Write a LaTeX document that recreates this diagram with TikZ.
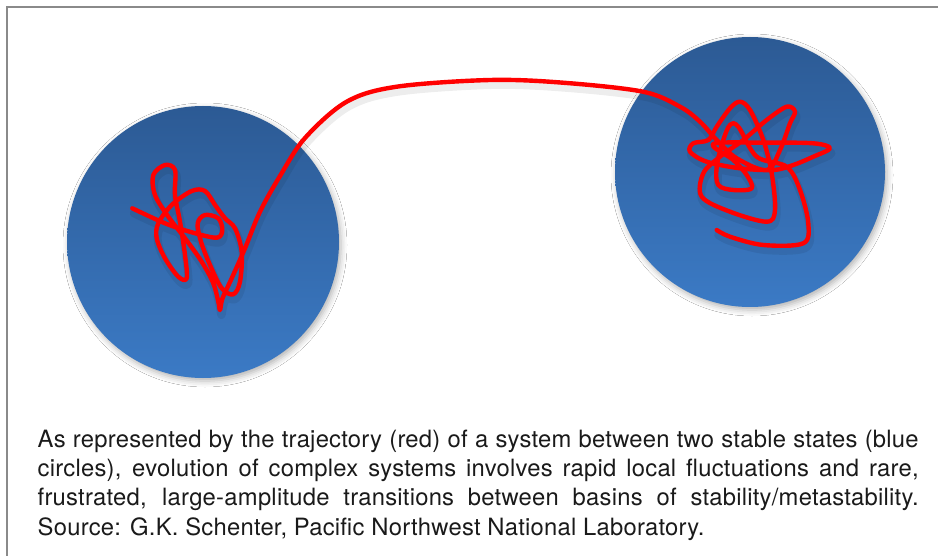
\documentclass[tikz,border=0pt]{standalone}
\usepackage{fontspec}
\setmainfont{TeX Gyre Heros}[LetterSpace=1]
\usetikzlibrary{shadows.blur}
\definecolor{circtop}{HTML}{2C5A94}
\definecolor{circbot}{HTML}{3B7AC5}
\definecolor{trajred}{HTML}{FF0000}
\definecolor{framegray}{HTML}{8A8A8A}
\definecolor{captxt}{HTML}{1A1A1A}
\begin{document}
\begin{tikzpicture}[x=1pt,y=-1pt,
  basin/.style={circle, inner sep=0pt, minimum size=#1, top color=circtop, bottom color=circbot,
    blur shadow={shadow xshift=2pt, shadow yshift=-3pt, shadow blur radius=6pt, shadow opacity=30}},
  framel/.style={draw=framegray, line width=1.4pt},
  trajline/.style={draw=trajred, line width=4.4pt, line cap=round, line join=round},
  trajshade/.style={draw=black, opacity=0.07, line width=8pt, line cap=round, line join=round, xshift=1.5pt, yshift=-5pt},
  capline/.style={anchor=base west, inner sep=0pt, text=captxt, font=\fontsize{23.8pt}{29.3pt}\selectfont}]
\useasboundingbox (0,0) rectangle (938,556);
\fill[white] (0,0) rectangle (938,556);
% frame
\coordinate (ftr) at (938,7);
\coordinate (ftl) at (7,7);
\coordinate (fbl) at (7,556);
\draw[framel] (ftr) -- (ftl) -- (fbl);
% basins
\node[basin=272pt] (A) at (203,242) {};
\node[basin=270pt] (B) at (750,172) {};
% trajectory
\def\trajpts{(132.3,208.3) (165,223.3) (191.7,232.3) (216.7,237.7) (222.3,230) (218.3,218.3)
 (205,215) (197.7,223.3) (201,241.7) (210,265) (221.7,288.3) (233.3,294.3) (240,281.7)
 (241.7,251.7) (235,228.3) (225,218.3) (215,205) (205,191) (191.7,191) (171.7,205)
 (158.3,223.3) (156.7,238.3) (165,258.3) (178.3,276.7) (186.7,278.3) (185,255) (180,221.7)
 (175,195) (175,170) (165,165) (153.3,175) (155,195) (168.3,216.7) (185,238.3) (201.7,261.7)
 (213.3,283.3) (218.3,301.7) (220,310) (222.5,298.3) (231.7,278.3) (245,248.3) (260,211.7)
 (280,176) (305,138) (346.7,101.7) (396.7,86.7) (490,80) (563,82.7) (643,91.7) (680,106.7)
 (700,121.7) (716.7,140) (736.7,158.3) (766.7,170) (780,150) (790,123.3) (795,111.7)
 (786.7,106.7) (766.7,120) (743.3,140) (720,156.7) (703.3,173.3) (701.7,196.7) (730,211.7)
 (766.7,221.7) (775,210) (771.7,173.3) (763.3,140) (750,110) (740,101.7) (730,108.3)
 (716.7,126.7) (708.3,140) (693.3,143.3) (690,151.7) (706.7,161.7) (740,168.3) (773.3,170)
 (793.3,165) (813.3,156.7) (830,148.3) (813.3,143.3) (763.3,142.7) (713.3,144) (733.3,160)
 (746.7,175) (751.7,188.3) (733.3,190) (718.3,185) (716.7,166.7) (723.3,140) (730,125)
 (738.3,126.7) (756.7,156.7) (786.7,166.7) (800,190) (808.3,223.3) (803.3,243.3) (763.3,245)
 (730,236.7) (716.7,230)}
\draw[trajshade] plot[smooth, tension=0.55] coordinates {\trajpts};
\draw[trajline] plot[smooth, tension=0.55] coordinates {\trajpts};
\coordinate (tstart) at (132.3,208.3);
\coordinate (tend) at (716.7,230);
% caption
\node[capline] (l1) at (37.5,447) {\makebox[881pt][s]{As represented by the trajectory (red) of a system between two stable states (blue}};
\node[capline] (l2) at (37.5,476.3) {\makebox[881pt][s]{circles), evolution of complex systems involves rapid local fluctuations and rare,}};
\node[capline] (l3) at (37.5,505.6) {\makebox[881pt][s]{frustrated, large-amplitude transitions between basins of stability/metastability.}};
\node[capline] (l4) at (37.5,535) {Source: G.K. Schenter, Pacific Northwest National Laboratory.};
\end{tikzpicture}
\end{document}
